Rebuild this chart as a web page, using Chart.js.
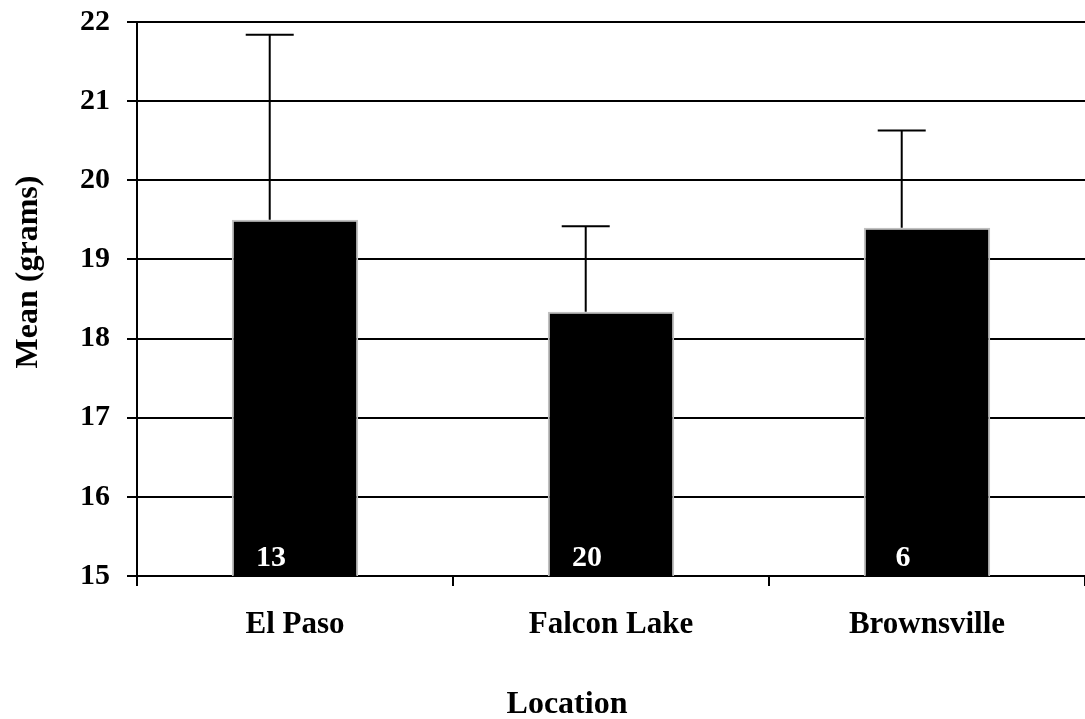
<!DOCTYPE html>
<html>
<head>
<meta charset="utf-8">
<script src="https://cdn.jsdelivr.net/npm/chart.js@4"></script>
<style>
  html, body { margin: 0; padding: 0; background: #fff; }
  #wrap { width: 1085px; height: 719px; }
</style>
</head>
<body>
<div id="wrap"><canvas id="graphic" width="1085" height="719"></canvas></div>
<script>
// data
var locations = ['El Paso', 'Falcon Lake', 'Brownsville'];
var means = [19.50, 18.34, 19.40];
var errors = [2.34, 1.08, 1.23];
var counts = [13, 20, 6];
var yTicks = [15, 16, 17, 18, 19, 20, 21, 22];

var serif = "'Liberation Serif', 'Times New Roman', serif";

// error bars (upper only), sample sizes and axis titles
var extras = {
  id: 'extras',
  afterDatasetsDraw: function (chart) {
    var ctx = chart.ctx;
    var meta = chart.getDatasetMeta(0);
    var y = chart.scales.y;
    ctx.save();
    ctx.strokeStyle = '#000';
    ctx.lineWidth = 2;
    meta.data.forEach(function (bar, i) {
      var x = bar.x - bar.width * 0.2;
      var top = y.getPixelForValue(means[i] + errors[i]);
      ctx.beginPath();
      ctx.moveTo(x, bar.y);
      ctx.lineTo(x, top);
      ctx.moveTo(x - 24, top);
      ctx.lineTo(x + 24, top);
      ctx.stroke();
    });
    ctx.fillStyle = '#fff';
    ctx.font = 'bold 30px ' + serif;
    ctx.textAlign = 'center';
    ctx.textBaseline = 'alphabetic';
    meta.data.forEach(function (bar, i) {
      ctx.fillText(String(counts[i]), bar.x - bar.width * 0.19, y.bottom - 10);
    });
    ctx.restore();
  },
  afterDraw: function (chart) {
    var ctx = chart.ctx;
    var area = chart.chartArea;
    ctx.save();
    ctx.fillStyle = '#000';
    ctx.font = 'bold 32px ' + serif;
    ctx.textAlign = 'center';
    ctx.textBaseline = 'alphabetic';
    ctx.fillText('Location', (area.left + area.right) / 2 - 44, 713);
    ctx.translate(37, (area.top + area.bottom) / 2 - 27);
    ctx.rotate(-Math.PI / 2);
    ctx.fillText('Mean (grams)', 0, 0);
    ctx.restore();
  }
};

var ctx = document.getElementById('graphic').getContext('2d');

var miGrafico = new Chart(ctx, {
  type: 'bar',
  data: {
    labels: locations,
    datasets: [{
      data: means,
      backgroundColor: '#000',
      borderColor: '#c0c0c0',
      borderWidth: 2,
      barPercentage: 0.4,
      categoryPercentage: 1.0
    }]
  },
  options: {
    responsive: false,
    animation: false,
    layout: { padding: { top: 22, right: 0, left: 0, bottom: 0 } },
    plugins: {
      legend: { display: false },
      tooltip: { enabled: false }
    },
    scales: {
      x: {
        grid: { drawOnChartArea: false, color: '#000', lineWidth: 2, tickLength: 10, offset: true },
        border: { color: '#000', width: 2 },
        ticks: { color: '#000', font: { family: serif, size: 31, weight: 'bold' }, padding: 20 },
        afterFit: function (scale) {
          scale.height = 143;
          scale.paddingLeft = 0;
          scale.paddingRight = 0;
        }
      },
      y: {
        min: 15,
        max: 22,
        afterBuildTicks: function (scale) {
          scale.ticks = yTicks.map(function (v) { return { value: v }; });
        },
        grid: { color: '#000', lineWidth: 2, tickLength: 10 },
        border: { color: '#000', width: 2 },
        ticks: { color: '#000', font: { family: serif, size: 30, weight: 'bold' }, padding: 17 },
        afterFit: function (scale) {
          scale.width = 137;
          scale.paddingTop = 0;
          scale.paddingBottom = 0;
        }
      }
    }
  },
  plugins: [extras]
});
</script>
</body>
</html>
